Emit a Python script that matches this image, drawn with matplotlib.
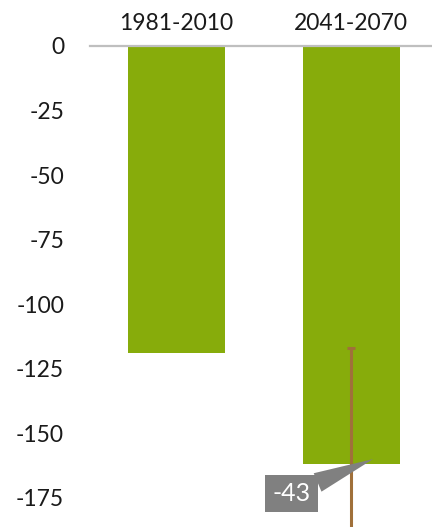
#plot.py

#COMMENT: Imports.

import numpy as np;
import matplotlib;
matplotlib.use('Agg');
import matplotlib.pyplot as plt;


#COMMENT: Data.

periods = ['1981-2010', '2041-2070'];
values = [-119, -162];
errorUpper = [0, 45];
errorLower = [0, 45];
changeLabel = '-43';
yTicks = [0, -25, -50, -75, -100, -125, -150, -175];

barColour = '#87AC0B';
errorColour = '#A0703A';
boxColour = '#808080';

plt.rcParams['font.family'] = ['Lato', 'DejaVu Sans'];


#COMMENT: Figure and axes.

fig = plt.figure(figsize = (4.32, 5.27), dpi = 100);
ax = fig.add_axes([90 / 432, 0.0, 1.0 - 90 / 432, 1.0 - 46 / 527]);

x = np.arange(len(periods));

ax.bar(x, values, width = 0.556, color = barColour, zorder = 2);

#COMMENT: Error bar only on the second period.

ax.errorbar(x[1], values[1], yerr = [[errorLower[1]], [errorUpper[1]]],
            fmt = 'none', ecolor = errorColour, elinewidth = 2.2,
            capsize = 3, capthick = 2.2, zorder = 3);

#COMMENT: Grey callout with the change between the periods.

ax.annotate(changeLabel, xy = (x[1] + 0.126, values[1] + 2),
            xytext = (x[1] - 0.341, values[1] - 11.3),
            ha = 'center', va = 'center', fontsize = 18, color = 'white',
            bbox = dict(boxstyle = 'square,pad=0.28', fc = boxColour, ec = 'none'),
            arrowprops = dict(arrowstyle = 'wedge,tail_width=0.8', fc = boxColour,
                              ec = 'none', shrinkA = 0, shrinkB = 0),
            zorder = 4);

#COMMENT: Axis styling.

ax.set_xlim(-0.496, 1.464);
ax.set_ylim(-186.3, 0);
ax.set_yticks(yTicks);
ax.set_yticklabels([str(t) for t in yTicks]);
ax.set_xticks(x);
ax.set_xticklabels(periods);
ax.xaxis.tick_top();

ax.tick_params(axis = 'y', length = 0, pad = 18.7, labelsize = 16.5, labelcolor = '#1a1a1a');
ax.tick_params(axis = 'x', length = 0, pad = 9, labelsize = 16.5, labelcolor = '#1a1a1a');

for side in ['left', 'right', 'bottom']:
    ax.spines[side].set_visible(False);
ax.spines['top'].set_color('#BFBFBF');
ax.spines['top'].set_linewidth(1.6);
ax.spines['top'].set_zorder(5);

#COMMENT: Save.

plt.savefig('out.png', format = 'png', dpi = 100);
plt.close();
